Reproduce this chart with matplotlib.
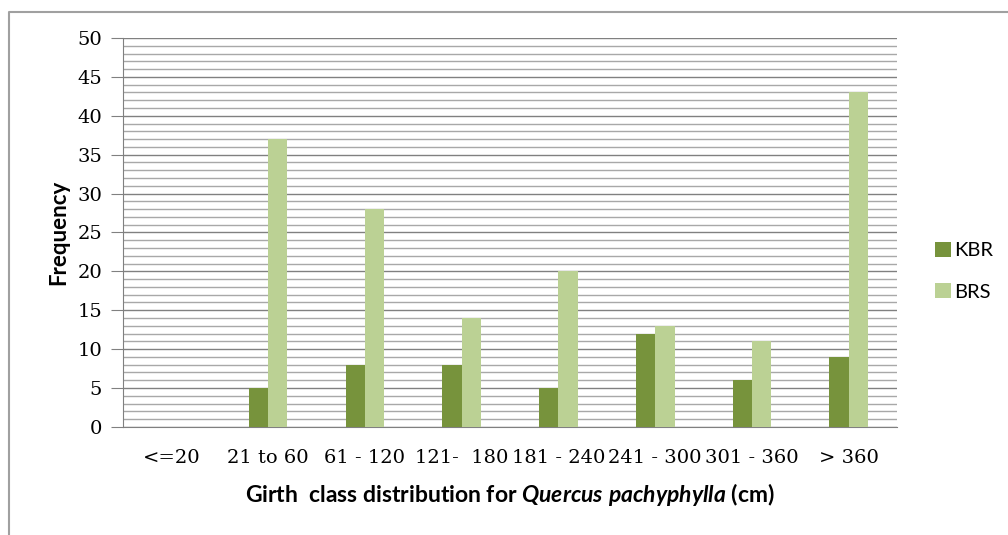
import matplotlib
matplotlib.use("Agg")
import matplotlib.pyplot as plt
from matplotlib.lines import Line2D
import numpy as np

categories = ["<=20", "21 to 60", "61 - 120", "121-  180", "181 - 240",
              "241 - 300", "301 - 360", "> 360"]
kbr = [0, 5, 8, 8, 5, 12, 6, 9]
brs = [0, 37, 28, 14, 20, 13, 11, 43]

KBR_COLOR = "#77933C"
BRS_COLOR = "#BBD194"

plt.rcParams["mathtext.fontset"] = "custom"
plt.rcParams["mathtext.it"] = "Lato:italic:bold"
plt.rcParams["mathtext.rm"] = "Lato:bold"

fig = plt.figure(figsize=(10.08, 5.35), dpi=100)
ax = fig.add_axes([0.122, 0.202, 0.768, 0.727])

x = np.arange(len(categories))
w = 0.2
ax.bar(x - w / 2, kbr, width=w, color=KBR_COLOR, label="KBR", zorder=3)
ax.bar(x + w / 2, brs, width=w, color=BRS_COLOR, label="BRS", zorder=3)

ax.set_xlim(-0.5, len(categories) - 0.5)
ax.set_ylim(0, 50)
ax.set_yticks(np.arange(0, 51, 5))
ax.set_yticks(np.arange(0, 51, 1), minor=True)
ax.grid(axis="y", which="major", color="#808080", linewidth=1.0, zorder=0)
ax.grid(axis="y", which="minor", color="#a8a8a8", linewidth=1.0, zorder=0)
ax.tick_params(axis="y", which="major", length=9, color="#808080",
               labelsize=14, pad=6)
ax.tick_params(axis="y", which="minor", length=0)
ax.tick_params(axis="x", length=0, labelsize=14, pad=16)
ax.set_xticks(x)
ax.set_xticklabels(categories)
for lab in ax.get_xticklabels() + ax.get_yticklabels():
    lab.set_fontfamily("DejaVu Serif")

for s in ["top", "right"]:
    ax.spines[s].set_visible(False)
ax.spines["left"].set_color("#808080")
ax.spines["bottom"].set_color("#808080")

ax.set_ylabel("Frequency", fontsize=16, fontweight="bold", family="Lato",
              labelpad=6)
ax.set_xlabel(r"Girth  class distribution for $\mathit{Quercus\ pachyphylla}$ (cm)",
              fontsize=16.5, fontweight="bold", family="Lato", labelpad=10)

ax.legend(loc="center left", bbox_to_anchor=(0.918, 0.493),
          bbox_transform=fig.transFigure, frameon=False,
          handlelength=0.75, handleheight=0.75, handletextpad=0.2,
          labelspacing=1.2, borderpad=0, prop={"family": "Lato", "size": 14.5})

# outer chart border
fig.add_artist(Line2D([0.009, 0.009, 1.0], [0.0, 0.978, 0.978],
                      transform=fig.transFigure, color="#a0a0a0", linewidth=1.5))

fig.savefig("out.png", dpi=100)
